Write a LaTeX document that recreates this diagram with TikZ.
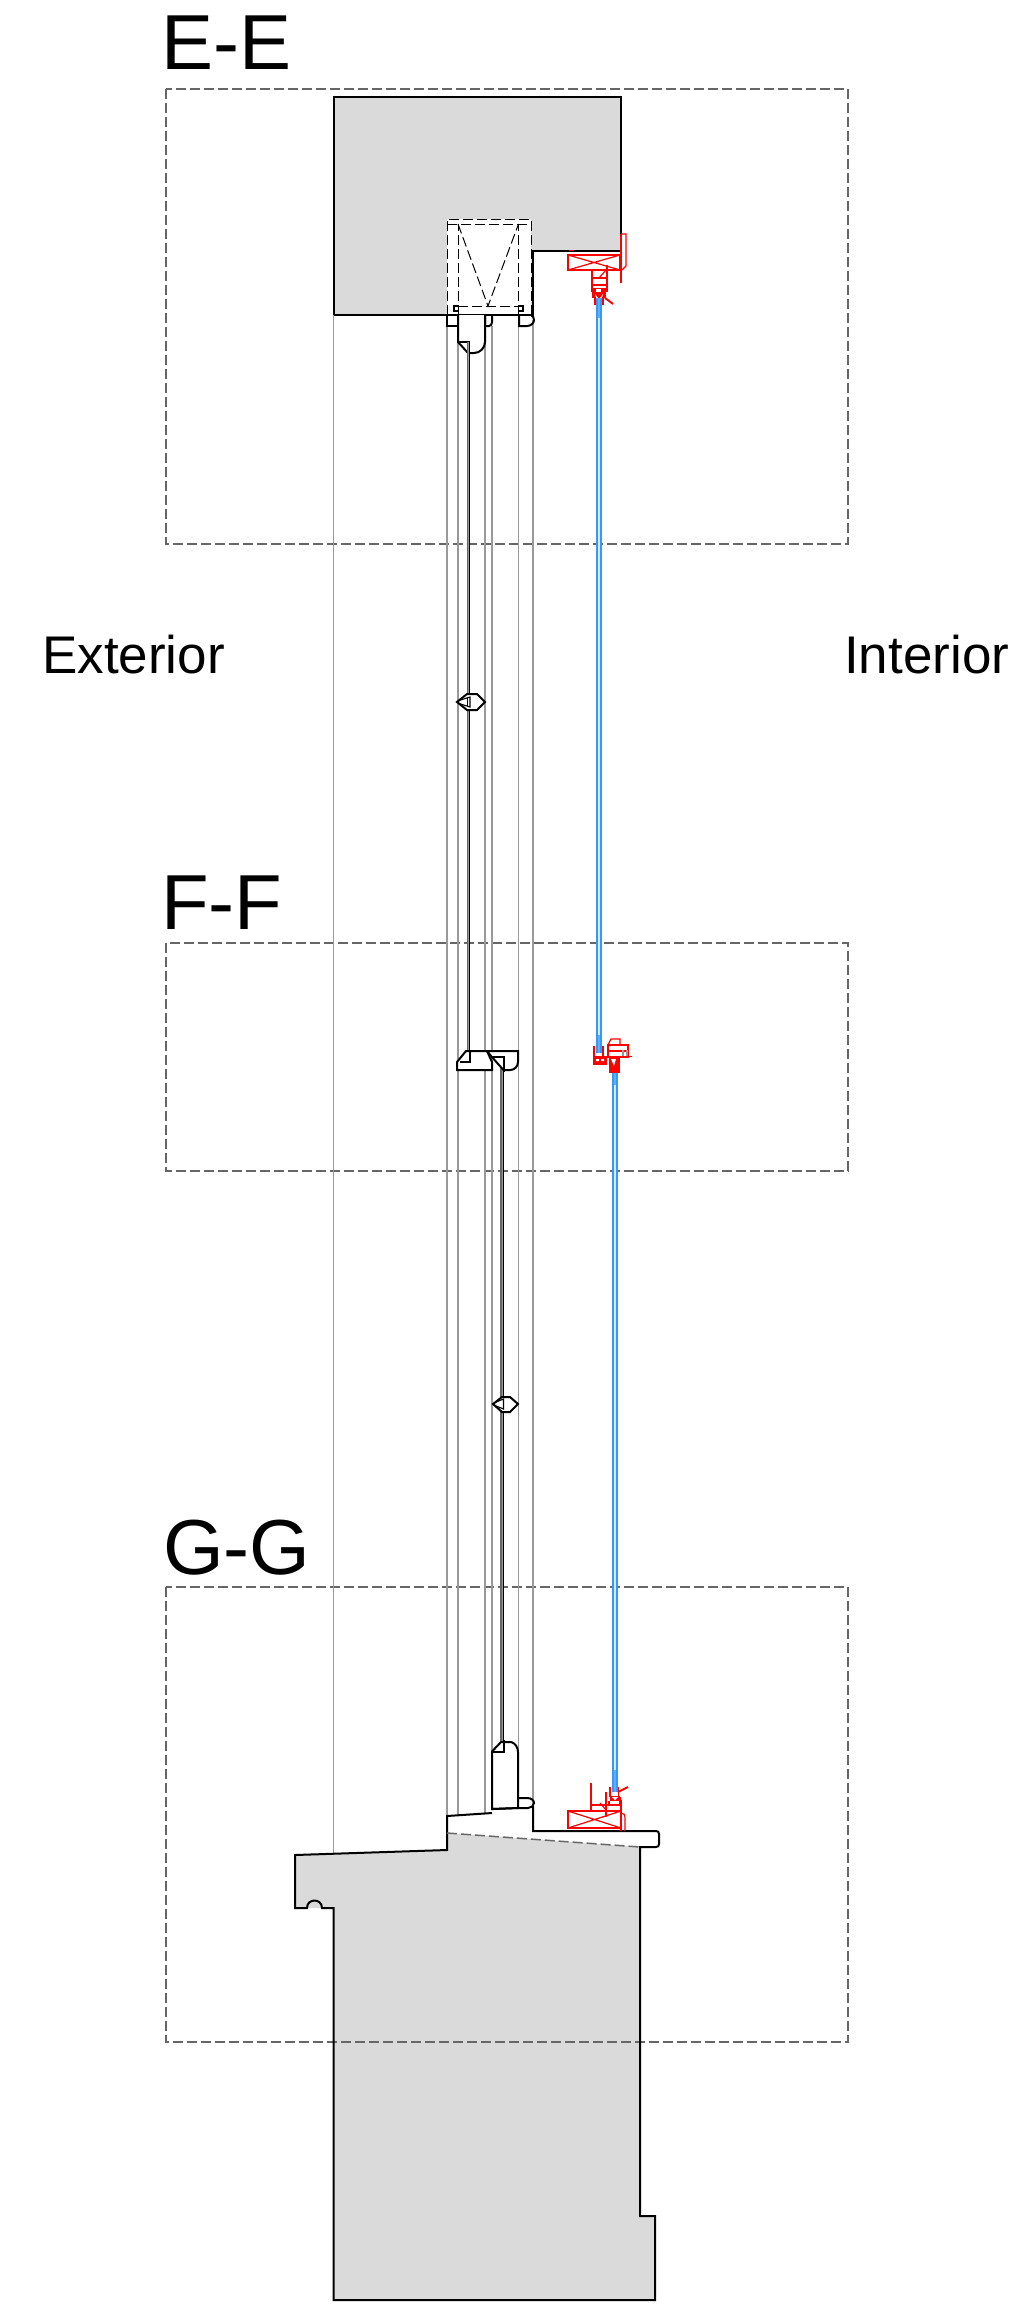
\documentclass[tikz,border=0pt]{standalone}
\usepackage{fontspec}
\setmainfont{Liberation Sans}
\definecolor{wallgray}{HTML}{DADADA}
\definecolor{thingray}{HTML}{999999}
\definecolor{dashgray}{HTML}{666666}
\definecolor{glassblue}{HTML}{3399FF}
\definecolor{glasslight}{HTML}{D5EBFF}
\definecolor{glassmid}{HTML}{62AEF2}
\tikzset{
  frame/.style={draw=dashgray,line width=1.1pt,dash pattern=on 10pt off 4pt},
  guide/.style={draw=thingray,line width=1.1pt},
  outline/.style={draw=black,line width=2pt,line join=miter},
  thinblack/.style={draw=black,line width=1.1pt},
  hidden/.style={draw=black,line width=1pt,dash pattern=on 10pt off 4pt},
  redline/.style={draw=red,line width=1.2pt},
  redthick/.style={draw=red,line width=1.9pt},
  title/.style={anchor=base west,inner sep=0pt,font=\fontsize{78}{78}\selectfont},
  side/.style={anchor=base west,inner sep=0pt,font=\fontsize{53}{53}\selectfont},
}
\begin{document}
\begin{tikzpicture}[x=1pt,y=-1pt]
\useasboundingbox (0,0) rectangle (1012,2304);
\fill[white] (0,0) rectangle (1012,2304);
% labels
\node[title] (ee) at (161,70) {E-E};
\node[title] (ff) at (161,929) {F-F};
\node[title] (gg) at (163,1574) {G-G};
\node[side] (ext) at (42,673) {Exterior};
\node[side] (int) at (844,673) {Interior};
% fills
\draw[outline,fill=wallgray] (333.5,315) -- (333.5,97) -- (621,97) -- (621,251) -- (533,251) -- (533,315) -- cycle;
\fill[wallgray] (447,1833) -- (640,1847) -- (640,2216) -- (655,2216) -- (655,2300) -- (333.5,2300) -- (333.5,1908) -- (295,1908) -- (295,1855) -- (447,1850) -- cycle;
% frames
\draw[frame] (166,89) rectangle (848,544);
\draw[frame] (166,943) rectangle (848,1171);
\draw[frame] (166,1587) rectangle (848,2042);
% guides
\draw[guide] (333.5,315) -- (333.5,1853);
\draw[guide] (447,326) -- (447,1816);
\draw[guide] (458,342) -- (458,1815);
\draw[guide] (485,326) -- (485,1814);
\draw[guide] (492,326) -- (492,1752);
\draw[guide] (518.5,326) -- (518.5,1752);
\draw[guide] (533,320) -- (533,1808);
% recess in head
\fill[white] (447,219) rectangle (531,315);
\draw[hidden] (447,315) -- (447,219) -- (531,219) -- (531,315);
\draw[hidden] (447,224) -- (531,224);
\draw[hidden] (458,315) -- (458,224);
\draw[hidden] (518.5,315) -- (518.5,224);
\draw[hidden] (458,224) -- (488,306) -- (518.5,224);
\draw[hidden] (458,306) -- (518.5,306);
\draw[thinblack] (458,306) -- (454,306) -- (454,311) -- (458,311);
\draw[thinblack] (518.5,306) -- (523,306) -- (523,311) -- (518.5,311);
% head profiles
\draw[outline] (333.5,315) -- (533,315);
\draw[outline] (447,315) -- (447,326) -- (458,326);
\draw[outline,fill=white] (458,315) -- (458,342) -- (468,353) -- (474,353) .. controls (480,353) and (485,348) .. (485,342) -- (485,315);
\draw[outline] (485,315) -- (485,326) -- (489,326) .. controls (491,326) and (492,324) .. (492,322) -- (492,315);
\draw[outline] (519,315) -- (519,326) -- (527,326) .. controls (531,326) and (534,323) .. (534,320) .. controls (534,318) and (533,316) .. (531,315);
\draw[outline] (459,342) -- (470,342);
% sash glass, outer upper
\fill[thingray] (467.5,342) rectangle (469.8,1051);
\draw[draw=dashgray,line width=1.5pt] (467.5,342) -- (467.5,1051);
\draw[draw=black,line width=1.1pt] (469.8,342) -- (469.8,1051);
% sash glass, outer lower
\fill[thingray] (501,1057) rectangle (503.3,1752);
\draw[draw=dashgray,line width=1.5pt] (501,1057) -- (501,1752);
\draw[draw=black,line width=1.1pt] (503.3,1057) -- (503.3,1752);
% clips
\draw[outline,fill=white] (457,702) -- (467,694) -- (477,694) -- (485,702) -- (477,710) -- (467,710) -- cycle;
\draw[thinblack] (459,700.5) -- (470,697) -- (470,707) -- (459,703.5);
\draw[draw=black,line width=1pt] (467.5,698) -- (467.5,706);
\draw[outline,fill=white] (493,1404) -- (502,1397) -- (510,1397) -- (518,1404) -- (510,1412) -- (502,1412) -- cycle;
\draw[thinblack] (495,1402.5) -- (503.5,1399) -- (503.5,1409) -- (495,1405.5);
% meeting rail
\draw[outline,fill=white] (457,1070) -- (457,1062) -- (466,1051) -- (487,1051) -- (492,1062) -- (492,1070) -- cycle;
\draw[outline] (460,1062) -- (470,1062) -- (470,1051);
\draw[outline,fill=white] (487,1051) -- (518,1051) -- (518,1062) .. controls (518,1067) and (514,1070) .. (510,1070) -- (503.5,1070) -- (491,1056) -- cycle;
\draw[outline] (492,1057) -- (503.5,1057) -- (503.5,1072);
% bottom rail
\draw[outline,fill=white] (492,1809) -- (492,1751.5) -- (501,1742) -- (511,1742) .. controls (515,1743) and (518,1747) .. (518,1752) -- (518,1808) -- cycle;
\draw[outline] (492,1751.5) -- (503.5,1751.5) -- (503.5,1740);
% sill
\draw[outline] (447,1833) -- (447,1816) -- (492,1813);
\draw[outline] (492,1809) -- (518,1808);
\draw[outline] (518,1798) -- (527,1798) .. controls (531,1798) and (534,1800) .. (534,1803) .. controls (534,1806) and (531,1808) .. (528,1808) -- (518,1808);
\draw[outline] (533,1806) -- (533,1831) -- (656,1831) .. controls (658,1831) and (659,1832) .. (659,1834) -- (659,1844) .. controls (659,1846) and (658,1847) .. (656,1847) -- (640,1847) -- (640,2216) -- (655,2216) -- (655,2300) -- (333.5,2300) -- (333.5,1908) -- (322,1908) .. controls (322,1898) and (307,1898) .. (307,1908) -- (295,1908) -- (295,1855) -- (447,1850) -- (447,1833);
\draw[frame,line width=1.5pt] (447,1833) -- (640,1847);
% glass
\fill[glasslight] (597,298) rectangle (601,1053);
\fill[glassmid] (597.5,298) rectangle (600.5,318);
\fill[glassmid] (597.5,1035) rectangle (600.5,1053);
\draw[draw=glassblue,line width=1.8pt] (597,298) -- (597,1053) (601,298) -- (601,1053);
\fill[glasslight] (613,1070) rectangle (617,1792);
\fill[glassmid] (613.5,1770) rectangle (616.5,1792);
\fill[glassmid] (613.5,1070) rectangle (616.5,1085);
\draw[draw=glassblue,line width=1.8pt] (613,1070) -- (613,1792) (617,1070) -- (617,1792);
% red head
\draw[redthick] (621,234) -- (621,283);
\draw[redline] (621,234) -- (626,234) -- (626,266) -- (622,270);
\draw[redline] (568,255) rectangle (620,270);
\draw[redline] (568,255) -- (620,270) (568,270) -- (620,255);
\draw[redthick] (569,250.5) -- (574,250.5);
\draw[redthick] (592,270) -- (592,292) (607,265) -- (607,292);
\draw[redthick] (592,278) -- (607,278) (592,285) -- (607,285);
\draw[redline] (599,278) -- (606,270);
\fill[red] (592,288) rectangle (606,298);
\fill[white] (596,289) rectangle (601,292);
\fill[white] (595,294) -- (598,298) -- (596,298) -- cycle (603,294) -- (600,298) -- (602,298) -- cycle;
\draw[redthick] (595,297) -- (595,305) (603,297) -- (603,305);
\draw[redthick] (605,298) -- (613,304);
% red meeting
\draw[redline] (608,1045) -- (611,1039) -- (620,1039) -- (620,1045);
\draw[redline] (608,1045) rectangle (628,1057);
\draw[redline] (608,1051) -- (628,1051);
\draw[redline] (608,1056.5) -- (632,1056.5);
\draw[draw=thingray,line width=1.5pt] (623,1050) -- (623,1056) (627,1050) -- (627,1056);
\draw[redthick] (594,1046) -- (594,1056);
\fill[red] (593,1056) rectangle (607,1065);
\fill[white] (596,1059) rectangle (599,1061) (601,1059) rectangle (604,1061);
\fill[red] (609,1058) rectangle (620,1073);
\fill[white] (611,1059) -- (614,1066) -- (616,1059) -- cycle;
\draw[redline] (603,1056) -- (603,1046);
% red sill
\draw[redline] (568,1811) rectangle (621,1828);
\draw[redline] (568,1811) -- (621,1828) (568,1828) -- (621,1811);
\draw[redline] (621,1813) .. controls (624,1813) and (625,1815) .. (625,1817) -- (625,1831);
\draw[redline] (621,1811) -- (621,1831);
\draw[redthick] (591,1783) -- (591,1811);
\draw[redthick] (591,1805) -- (605,1805);
\draw[redthick] (606,1792) -- (606,1817);
\draw[redline] (600,1803) -- (606,1810);
\draw[redthick] (606,1805) -- (621,1805) (621,1800) -- (621,1811);
\fill[red] (610,1796) rectangle (620,1801);
\fill[white] (612,1797) -- (615,1800) -- (618,1797) -- cycle;
\draw[redthick] (610,1787) -- (610,1797) (618.5,1787) -- (618.5,1797);
\draw[redthick] (609,1801) -- (609,1805) (620,1797) -- (620,1805);
\draw[redthick] (618,1792) -- (628,1787);
\end{tikzpicture}
\end{document}
